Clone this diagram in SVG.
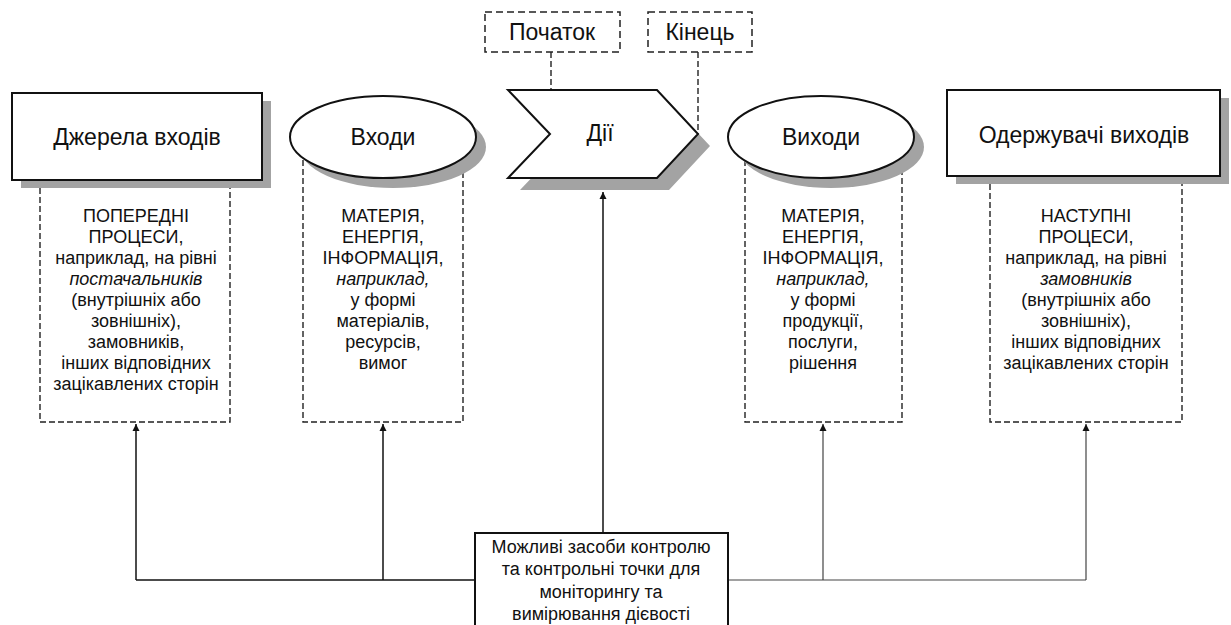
<svg xmlns="http://www.w3.org/2000/svg" width="1231" height="625" viewBox="0 0 1231 625">
<defs>
<marker id="ah" viewBox="0 0 10 10" refX="10" refY="5" markerWidth="7" markerHeight="9" markerUnits="userSpaceOnUse" orient="auto">
<path d="M0,0 L10,5 L0,10 Z" fill="#111"/>
</marker>
</defs>
<style>
text{font-family:"Liberation Sans",Arial,sans-serif;fill:#111;text-anchor:middle}
.title{font-size:23px}
.small{font-size:18px}
.it{font-style:italic}
.shape{fill:#fff;stroke:#111;stroke-width:2}
.shadow{fill:#a3a3a3;stroke:none}
.dash{fill:none;stroke:#222;stroke-width:1.4;stroke-dasharray:6 3}
.dashbox{fill:#fff;stroke:#222;stroke-width:1.5;stroke-dasharray:7 4}
.conn{fill:none;stroke:#111;stroke-width:1.5}
.conn2{fill:none;stroke:#444;stroke-width:1.2}
</style>
<rect width="1231" height="625" fill="#fff"/>

<g id="connectors">
<path class="conn" d="M136,580 H475"/>
<path class="conn2" d="M728,580 H1086"/>
<path class="conn" d="M136,580 V424" marker-end="url(#ah)"/>
<path class="conn" d="M383,580 V424" marker-end="url(#ah)"/>
<path class="conn" d="M603,533 V192" marker-end="url(#ah)"/>
<path class="conn2" d="M823,580 V424" marker-end="url(#ah)"/>
<path class="conn2" d="M1086,580 V424" marker-end="url(#ah)"/>
<path class="dash" d="M551,52 V134"/>
<path class="dash" d="M698,52 V134"/>
</g>

<g id="sources-detail">
<path class="dash" d="M40,188 V422 H230 V188"/>
<text class="small" x="136" y="222">ПОПЕРЕДНІ</text>
<text class="small" x="136" y="243">ПРОЦЕСИ,</text>
<text class="small" x="136" y="264">наприклад, на рівні</text>
<text class="small it" x="136" y="285">постачальників</text>
<text class="small" x="136" y="306">(внутрішніх або</text>
<text class="small" x="136" y="327">зовнішніх),</text>
<text class="small" x="136" y="348">замовників,</text>
<text class="small" x="136" y="369">інших відповідних</text>
<text class="small" x="136" y="390">зацікавлених сторін</text>
</g>

<g id="sources">
<rect class="shadow" x="21" y="101" width="250" height="87"/>
<rect class="shape" x="12" y="93" width="250" height="87"/>
<text class="title" x="137" y="145">Джерела входів</text>
</g>

<g id="inputs-detail">
<path class="dash" d="M303,160 V422 H463 V160"/>
<text class="small" x="383" y="222">МАТЕРІЯ,</text>
<text class="small" x="383" y="243">ЕНЕРГІЯ,</text>
<text class="small" x="383" y="264">ІНФОРМАЦІЯ,</text>
<text class="small it" x="383" y="285">наприклад,</text>
<text class="small" x="383" y="306">у формі</text>
<text class="small" x="383" y="327">матеріалів,</text>
<text class="small" x="383" y="348">ресурсів,</text>
<text class="small" x="383" y="369">вимог</text>
</g>

<g id="inputs">
<ellipse class="shadow" cx="393" cy="147" rx="93" ry="41"/>
<ellipse class="shape" cx="383" cy="137" rx="93" ry="41"/>
<text class="title" x="383" y="145">Входи</text>
</g>

<g id="start">
<rect class="dashbox" x="485" y="12" width="135" height="40"/>
<text class="title" x="552" y="40">Початок</text>
</g>

<g id="end">
<rect class="dashbox" x="648" y="12" width="104" height="40"/>
<text class="title" x="700" y="40">Кінець</text>
</g>

<g id="activities">
<polygon class="shadow" points="520,102 669,102 710,146 669,190 520,190 562,146"/>
<polygon class="shape" points="508,90 657,90 698,134 657,178 508,178 550,134"/>
<text class="title" x="600" y="141">Дії</text>
</g>

<g id="outputs-detail">
<path class="dash" d="M745,160 V422 H902 V160"/>
<text class="small" x="823" y="222">МАТЕРІЯ,</text>
<text class="small" x="823" y="243">ЕНЕРГІЯ,</text>
<text class="small" x="823" y="264">ІНФОРМАЦІЯ,</text>
<text class="small it" x="823" y="285">наприклад,</text>
<text class="small" x="823" y="306">у формі</text>
<text class="small" x="823" y="327">продукції,</text>
<text class="small" x="823" y="348">послуги,</text>
<text class="small" x="823" y="369">рішення</text>
</g>

<g id="outputs">
<ellipse class="shadow" cx="831" cy="147" rx="93" ry="41"/>
<ellipse class="shape" cx="821" cy="137" rx="93" ry="41"/>
<text class="title" x="821" y="145">Виходи</text>
</g>

<g id="receivers-detail">
<path class="dash" d="M990,184 V422 H1182 V184"/>
<text class="small" x="1086" y="222">НАСТУПНІ</text>
<text class="small" x="1086" y="243">ПРОЦЕСИ,</text>
<text class="small" x="1086" y="264">наприклад, на рівні</text>
<text class="small it" x="1086" y="285">замовників</text>
<text class="small" x="1086" y="306">(внутрішніх або</text>
<text class="small" x="1086" y="327">зовнішніх),</text>
<text class="small" x="1086" y="348">інших відповідних</text>
<text class="small" x="1086" y="369">зацікавлених сторін</text>
</g>

<g id="receivers">
<rect class="shadow" x="956" y="98" width="273" height="86"/>
<rect class="shape" x="947" y="90" width="273" height="86"/>
<text class="title" x="1084" y="143">Одержувачі виходів</text>
</g>

<g id="controls">
<rect class="shape" x="475" y="533" width="253" height="100"/>
<text class="small" x="601" y="553">Можливі засоби контролю</text>
<text class="small" x="601" y="575">та контрольні точки для</text>
<text class="small" x="601" y="598">моніторингу та</text>
<text class="small" x="601" y="620">вимірювання дієвості</text>
</g>
</svg>
